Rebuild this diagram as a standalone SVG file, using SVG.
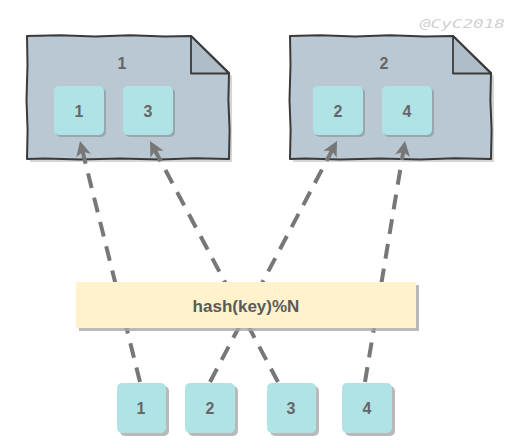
<svg xmlns="http://www.w3.org/2000/svg" width="519" height="448" viewBox="0 0 519 448">
<defs>
<style>
.doc{fill:#bac8d3;stroke:#3a3a3a;stroke-width:2;stroke-linejoin:round}
.fold{fill:#aebdc8;stroke:#3a3a3a;stroke-width:1.8;stroke-linejoin:round}
.docsh{fill:#b3b3b3;opacity:0.55}
.box{fill:#b0e3e6}
.sh{fill:#8f9aa0;opacity:0.75}
.bsh{fill:#a8a8a8;opacity:0.8}
.t{font-family:"Liberation Sans",Arial,sans-serif;font-weight:bold;fill:#666;text-anchor:middle;dominant-baseline:central}
.n{font-size:16px}
.conn{fill:none;stroke:#777;stroke-width:4;stroke-dasharray:15 10}
</style>
<marker id="ah" markerUnits="userSpaceOnUse" viewBox="-16 -9 18 18" markerWidth="18" markerHeight="18" refX="0" refY="0" orient="auto">
<path d="M0,0 L-15,-7.5 L-11,0 L-15,7.5 Z" fill="#777"/>
</marker>
</defs>

<g id="node-doc1">
<path class="docsh" d="M30,39 L194,39 L232,76 L232,162 L30,162 Z"/>
<path class="doc" d="M27,36 L60,35.3 L95,36.6 L130,35.2 L165,36.4 L191,36 L229,73 L228.4,100 L229.6,130 L229,159 L195,158.2 L160,159.6 L120,158.4 L80,159.5 L45,158.6 L27,159 L27.6,130 L26.5,100 L27.5,65 Z"/>
<path class="fold" d="M191,36 L229,73.5 L191,73.5 Z"/>
<text class="t n" x="122" y="63">1</text>
</g>

<g id="node-doc2">
<path class="docsh" d="M293,39 L456,39 L494,76 L494,162 L293,162 Z"/>
<path class="doc" d="M290,36 L320,35.3 L355,36.6 L390,35.3 L425,36.4 L453,36 L491,73 L490.4,100 L491.6,130 L491,159 L455,158.2 L420,159.6 L380,158.4 L340,159.5 L305,158.6 L290,159 L290.6,130 L289.5,100 L290.5,65 Z"/>
<path class="fold" d="M453,36 L491,73.5 L453,73.5 Z"/>
<text class="t n" x="384" y="63">2</text>
</g>

<g id="connectors">
<path class="conn" d="M140,382 L80,141" marker-end="url(#ah)"/>
<path class="conn" d="M210,382 L337,141" marker-end="url(#ah)"/>
<path class="conn" d="M278,382 L150,141" marker-end="url(#ah)"/>
<path class="conn" d="M365,382 L405,141" marker-end="url(#ah)"/>
</g>

<g id="node-d1-1"><rect class="sh" x="56" y="88" width="50" height="49" rx="5"/><rect class="box" x="54" y="86" width="50" height="49" rx="5"/><text class="t n" x="79" y="111">1</text></g>
<g id="node-d1-3"><rect class="sh" x="125" y="88" width="50" height="49" rx="5"/><rect class="box" x="123" y="86" width="50" height="49" rx="5"/><text class="t n" x="148" y="111">3</text></g>
<g id="node-d2-2"><rect class="sh" x="315" y="88" width="50" height="49" rx="5"/><rect class="box" x="313" y="86" width="50" height="49" rx="5"/><text class="t n" x="338" y="111">2</text></g>
<g id="node-d2-4"><rect class="sh" x="384" y="88" width="50" height="49" rx="5"/><rect class="box" x="382" y="86" width="50" height="49" rx="5"/><text class="t n" x="407" y="111">4</text></g>

<g id="node-hash">
<rect class="bsh" x="79" y="285" width="340" height="46"/>
<rect x="76" y="282" width="340" height="46" fill="#fff2cc"/>
<text class="t" x="246" y="306" font-size="17px" style="fill:#5a5a5a">hash(key)%N</text>
</g>

<g id="node-k1"><rect class="bsh" x="120" y="386" width="49" height="50" rx="5"/><rect class="box" x="117" y="383" width="49" height="50" rx="5"/><text class="t n" x="141" y="408">1</text></g>
<g id="node-k2"><rect class="bsh" x="188" y="386" width="50" height="50" rx="5"/><rect class="box" x="185" y="383" width="50" height="50" rx="5"/><text class="t n" x="210" y="408">2</text></g>
<g id="node-k3"><rect class="bsh" x="270" y="386" width="49" height="50" rx="5"/><rect class="box" x="267" y="383" width="49" height="50" rx="5"/><text class="t n" x="291" y="408">3</text></g>
<g id="node-k4"><rect class="bsh" x="345" y="386" width="50" height="50" rx="5"/><rect class="box" x="342" y="383" width="50" height="50" rx="5"/><text class="t n" x="367" y="408">4</text></g>

<text x="420" y="28" font-family="'DejaVu Sans Mono',monospace" font-style="italic" font-size="13" fill="#d0d0d0" textLength="85" lengthAdjust="spacingAndGlyphs">@CyC2018</text>
</svg>
